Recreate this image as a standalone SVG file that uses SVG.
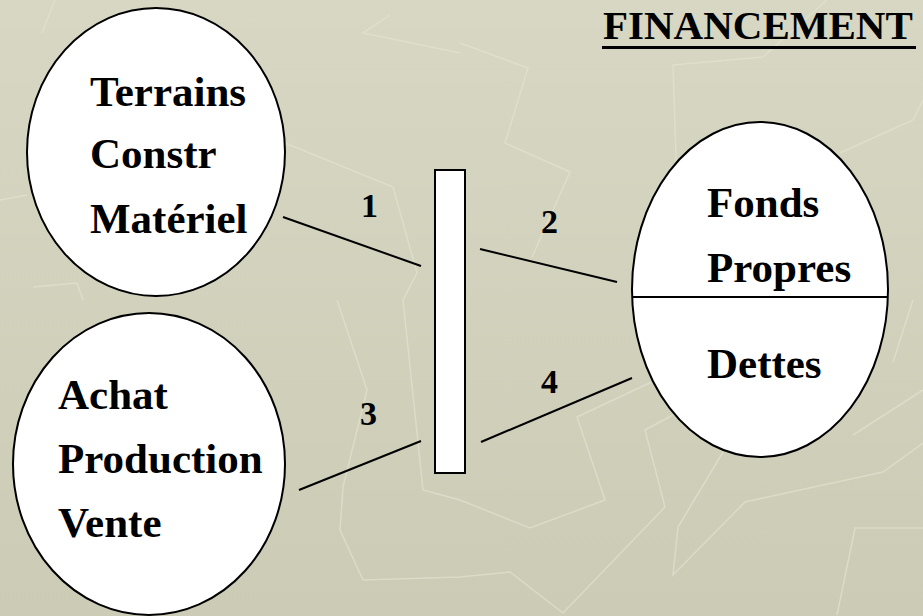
<svg xmlns="http://www.w3.org/2000/svg" width="923" height="616" viewBox="0 0 923 616">
<defs>
<linearGradient id="bg" x1="0" y1="0" x2="0" y2="1">
<stop offset="0" stop-color="#d7d7c3"/>
<stop offset="1" stop-color="#cbcbb6"/>
</linearGradient>
<style>
.deco{fill:none;stroke:#e3e3d1;stroke-width:1.5;opacity:0.65}
.node{fill:#ffffff;stroke:#000000;stroke-width:2}
.lbl{font-family:"Liberation Serif","Times New Roman",serif;font-weight:bold;font-size:43px;fill:#000000}
.ttl{font-family:"Liberation Serif","Times New Roman",serif;font-weight:bold;font-size:41px;fill:#000000}
.num{font-family:"Liberation Serif","Times New Roman",serif;font-weight:bold;font-size:34px;fill:#000000}
.conn{stroke:#000000;stroke-width:2;fill:none}
</style>
</defs>
<rect x="0" y="0" width="923" height="616" fill="url(#bg)"/>
<g id="background-pattern">
<polyline class="deco" points="460,43 528,68 505,143 570,172 532,257"/>
<polyline class="deco" points="680,283 673,65 763,57 827,0"/>
<polyline class="deco" points="923,100 913,120 840,153"/>
<polyline class="deco" points="42,33 55,0"/>
<polyline class="deco" points="390,15 363,33 460,53"/>
<polyline class="deco" points="285,143 393,187 417,273 403,300 423,490 460,500 530,528 605,500 577,417 673,372"/>
<polyline class="deco" points="0,200 27,195"/>
<polyline class="deco" points="33,287 77,283 83,300"/>
<polyline class="deco" points="337,300 367,390 343,487 340,530 363,580 460,577 510,572 563,613 665,507 645,430 673,415"/>
<polyline class="deco" points="723,452 678,527 673,575 745,502 883,472 923,443"/>
<polyline class="deco" points="837,615 855,528 923,528"/>
<polyline class="deco" points="853,435 923,390"/>
<polyline class="deco" points="893,362 913,300"/>
</g>
<g id="connectors">
<line class="conn" x1="283" y1="217" x2="421" y2="266"/>
<line class="conn" x1="480" y1="249" x2="617" y2="282"/>
<line class="conn" x1="299" y1="490" x2="421" y2="441"/>
<line class="conn" x1="481" y1="442" x2="632" y2="378"/>
<text class="num" x="361" y="217">1</text>
<text class="num" x="541" y="233">2</text>
<text class="num" x="360" y="425">3</text>
<text class="num" x="541" y="393">4</text>
</g>
<g id="title">
<text class="ttl" x="603" y="39">FINANCEMENT</text>
<rect x="602" y="46" width="314" height="3" fill="#000000"/>
</g>
<g id="node-investissements">
<ellipse class="node" cx="156" cy="152" rx="129" ry="144"/>
<text class="lbl" x="90" y="106">Terrains</text>
<text class="lbl" x="90" y="168">Constr</text>
<text class="lbl" x="90" y="233">Matériel</text>
</g>
<g id="node-exploitation">
<ellipse class="node" cx="149" cy="464" rx="136" ry="151"/>
<text class="lbl" x="58" y="409">Achat</text>
<text class="lbl" x="58" y="473">Production</text>
<text class="lbl" x="58" y="537">Vente</text>
</g>
<g id="node-entreprise">
<rect class="node" x="435" y="170" width="30" height="303"/>
</g>
<g id="node-financement">
<ellipse class="node" cx="760" cy="289.5" rx="128" ry="167.5"/>
<line x1="632" y1="297" x2="888" y2="297" stroke="#000" stroke-width="2"/>
<text class="lbl" x="707" y="217">Fonds</text>
<text class="lbl" x="707" y="282">Propres</text>
<text class="lbl" x="707" y="378">Dettes</text>
</g>
</svg>
